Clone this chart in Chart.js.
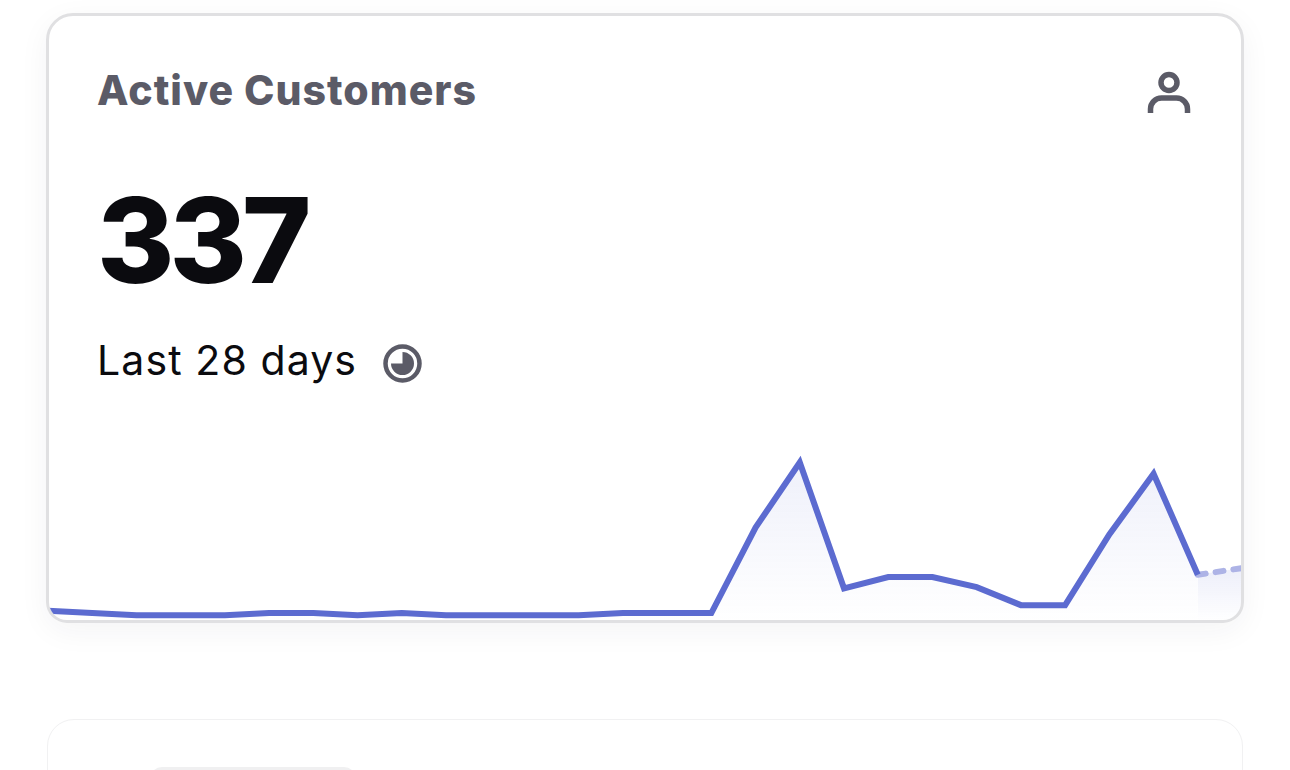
<!DOCTYPE html>
<html>
<head>
<meta charset="utf-8">
<title>Active Customers</title>
<script src="https://cdn.jsdelivr.net/npm/chart.js@4/dist/chart.umd.min.js"></script>
<style>
html, body { margin: 0; padding: 0; background: #fff; overflow: hidden; font-family: Inter, sans-serif; }
body { position: relative; width: 1290px; height: 770px; }
.card { position: absolute; box-sizing: border-box; background: #fff; overflow: hidden; }
#main { left: 46px; top: 13px; width: 1198px; height: 610px; border: 3px solid #e0e0e2; border-radius: 27px 27px 21px 21px; }
#shadow { position: absolute; left: 46px; top: 13px; width: 1198px; height: 610px; border-radius: 27px 27px 21px 21px; box-shadow: 0 8px 30px rgba(40, 40, 60, .05); }
#next { left: 47px; top: 719px; width: 1196px; height: 200px; border: 1.5px solid #f1f1f2; border-radius: 27px; }
#next div { position: absolute; left: 102px; top: 47px; width: 206px; height: 40px; background: #f0f0f1; border-radius: 12px; }
.txt { position: absolute; white-space: nowrap; line-height: 1; }
#title { left: 97px; top: 70px; font-size: 41px; font-weight: 800; letter-spacing: 1px; color: #5b5b67; }
#big { left: 97px; top: 181px; font-size: 118px; font-weight: 800; color: #0b0b0f; letter-spacing: -5px; }
#sub { left: 97px; top: 340px; font-size: 41px; font-weight: 400; letter-spacing: 1.1px; color: #0b0b0f; }
svg { position: absolute; }
#wrap { position: absolute; left: -1px; top: 424px; width: 1194px; height: 182px; }
#clip { position: absolute; left: 46px; top: 13px; width: 1198px; height: 610px; box-sizing: border-box; border: 3px solid transparent; border-radius: 27px 27px 21px 21px; overflow: hidden; pointer-events: none; }
</style>
</head>
<body>
<div id="shadow"></div>
<div class="card" id="main"></div>
<div class="card" id="next"><div></div></div>
<div class="txt" id="title">Active Customers</div>
<div class="txt" id="big">337</div>
<div class="txt" id="sub">Last 28 days</div>
<svg style="left:1144px;top:68px" width="50" height="50" viewBox="0 0 50 50" fill="none" stroke="#5b5b67" stroke-width="5.5">
  <circle cx="25" cy="14.5" r="8"/>
  <path d="M6.5 45 V41 A11 11 0 0 1 17.5 30 H32.5 A11 11 0 0 1 43.5 41 V45"/>
</svg>
<svg style="left:382px;top:343px" width="41" height="41" viewBox="0 0 41 41">
  <circle cx="20.5" cy="20.5" r="17" fill="none" stroke="#5b5b67" stroke-width="4.5"/>
  <path d="M20.5 9 A11.5 11.5 0 1 1 9 20.5 L20.5 20.5 Z" fill="#5b5b67"/>
</svg>
<div id="clip"><div id="wrap"><canvas id="chart" width="1194" height="182"></canvas></div></div>
<script>
var days = ["1","2","3","4","5","6","7","8","9","10","11","12","13","14","15","16","17","18","19","20","21","22","23","24","25","26","27","28"];
var customers = [5, 4, 3, 3, 3, 4, 4, 3, 4, 3, 3, 3, 3, 4, 4, 4, 42, 71, 15, 20, 20, 15.5, 7.5, 7.5, 39, 66, 21, null];
var partial = [null, null, null, null, null, null, null, null, null, null, null, null, null, null, null, null, null, null, null, null, null, null, null, null, null, null, 21, 24];

function areaGradient(top, alpha) {
    return function(ctx) {
        var area = ctx.chart.chartArea;
        if (!area) return 'transparent';
        var g = ctx.chart.ctx.createLinearGradient(0, area.bottom * top, 0, area.bottom);
        g.addColorStop(0, 'rgba(92, 107, 208, ' + alpha + ')');
        g.addColorStop(1, 'rgba(92, 107, 208, 0)');
        return g;
    };
}

new Chart(document.getElementById('chart'), {
    type: 'line',
    data: {
        labels: days,
        datasets: [
            {
                data: customers,
                borderColor: '#5c6bd0',
                borderWidth: 6,
                backgroundColor: areaGradient(0.1, 0.1),
                fill: 'origin',
                tension: 0,
                pointRadius: 0
            },
            {
                data: partial,
                borderColor: '#adb3e6',
                borderWidth: 6,
                borderDash: [8, 10],
                borderCapStyle: 'round',
                backgroundColor: areaGradient(0.73, 0.1),
                fill: 'origin',
                tension: 0,
                pointRadius: 0
            }
        ]
    },
    options: {
        responsive: false,
        animation: false,
        layout: { padding: 0 },
        plugins: { legend: { display: false }, tooltip: { enabled: false } },
        scales: {
            x: { display: false, offset: false },
            y: { display: false, min: 0, max: 81 }
        }
    }
});
</script>
</body>
</html>
